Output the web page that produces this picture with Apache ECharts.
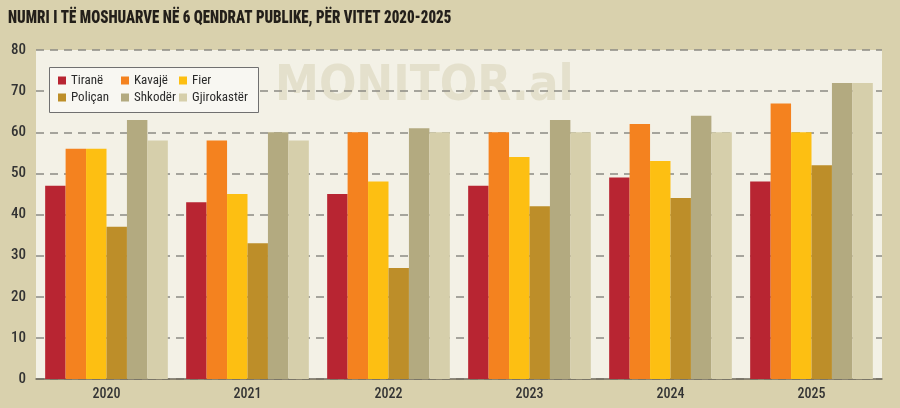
<!DOCTYPE html>
<html>
<head>
<meta charset="utf-8">
<script src="https://cdn.jsdelivr.net/npm/echarts@6/dist/echarts.min.js"></script>
<style>
  html, body { margin: 0; padding: 0; background: #d9d1ad; }
  #chart { width: 900px; height: 408px; }
</style>
</head>
<body>
<div id="chart"></div>
<script>
// vitet
var years = ['2020', '2021', '2022', '2023', '2024', '2025'];
var yTicks = [0, 10, 20, 30, 40, 50, 60, 70, 80];

var tirane = [47, 43, 45, 47, 49, 48];
var kavaje = [56, 58, 60, 60, 62, 67];
var fier = [56, 45, 48, 54, 53, 60];
var polican = [37, 33, 27, 42, 44, 52];
var shkoder = [63, 60, 61, 63, 64, 72];
var gjirokaster = [58, 58, 60, 60, 60, 72];

var names = ['Tiranë', 'Kavajë', 'Fier', 'Poliçan', 'Shkodër', 'Gjirokastër'];
var colors = ['#b82532', '#f4821f', '#fdbf12', '#bd8e29', '#b3aa80', '#d6cfab'];
var values = [tirane, kavaje, fier, polican, shkoder, gjirokaster];

var font = '"Roboto Condensed", "DejaVu Sans Condensed", sans-serif';

var myChart = echarts.init(document.getElementById('chart'));

var legendBase = {
  orient: 'vertical',
  top: 74,
  padding: 0,
  itemWidth: 8,
  itemHeight: 8,
  itemGap: 4,
  icon: 'rect',
  z: 10,
  textStyle: { fontFamily: font, fontSize: 13, fontWeight: 'normal', color: '#2b2b2b' }
};

myChart.setOption({
  backgroundColor: '#d9d1ad',
  textStyle: { fontFamily: font },
  graphic: [
    {
      type: 'text',
      left: 8,
      top: 9,
      scaleX: 0.83,
      style: {
        text: 'NUMRI I TË MOSHUARVE NË 6 QENDRAT PUBLIKE, PËR VITET 2020-2025',
        font: '900 18px "Roboto Condensed", sans-serif',
        fill: '#231f1a'
      }
    },
    {
      type: 'text',
      left: 275,
      top: 63,
      z: 0,
      style: {
        text: 'MONITOR.al',
        font: 'bold 49px "DejaVu Sans Condensed", sans-serif',
        fill: '#e4e0cc'
      }
    },
    {
      type: 'rect',
      left: 49,
      top: 67,
      z: 5,
      shape: { width: 209, height: 45 },
      style: { fill: '#f8f7f2', stroke: '#707070', lineWidth: 1 }
    }
  ],
  legend: [
    Object.assign({}, legendBase, { left: 58, data: [names[0], names[3]] }),
    Object.assign({}, legendBase, { left: 121, data: [names[1], names[4]] }),
    Object.assign({}, legendBase, { left: 179, data: [names[2], names[5]] })
  ],
  grid: {
    left: 36,
    right: 18,
    top: 50,
    bottom: 29,
    show: true,
    backgroundColor: '#f3f1e6',
    borderWidth: 0
  },
  xAxis: {
    type: 'category',
    data: years,
    axisTick: { show: false },
    axisLine: { lineStyle: { color: '#6f6a5c', width: 1.5 } },
    axisLabel: { fontFamily: font, fontSize: 14, fontWeight: 500, color: '#333', margin: 8 }
  },
  yAxis: {
    type: 'value',
    min: yTicks[0],
    max: yTicks[yTicks.length - 1],
    interval: 10,
    axisLine: { show: false },
    axisTick: { show: false },
    axisLabel: { fontFamily: font, fontSize: 15, fontWeight: 500, color: '#333', margin: 10 },
    splitLine: { lineStyle: { color: '#8c8b84', width: 1.5, type: [8, 6] } }
  },
  series: names.map(function (n, i) {
    return {
      name: n,
      type: 'bar',
      data: values[i],
      itemStyle: { color: colors[i] },
      barGap: '0%',
      barCategoryGap: '13%',
      z: 3
    };
  })
});

window.onresize = function () {
  myChart.resize();
};
</script>
</body>
</html>
